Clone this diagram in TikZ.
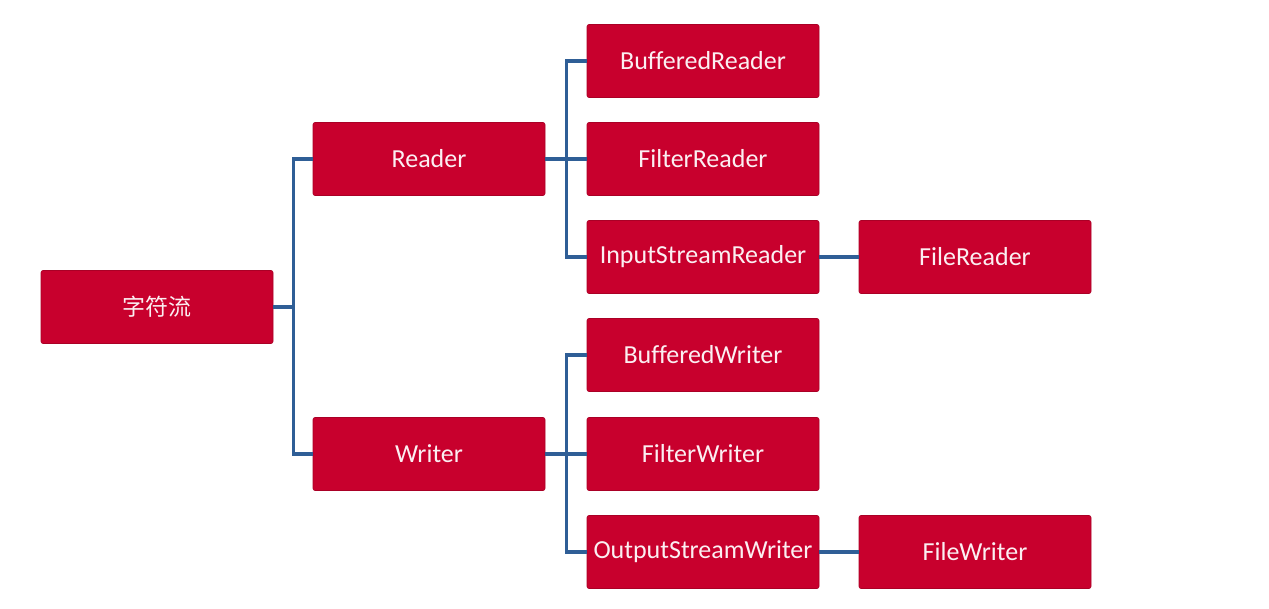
\documentclass[tikz,border=0pt]{standalone}
\usepackage{fontspec}
\setmainfont[Ligatures=NoCommon]{Carlito}
\newfontfamily\cjk{Noto Sans CJK SC}
\definecolor{boxred}{HTML}{C8002D}
\definecolor{lineblue}{HTML}{2F5E96}
\definecolor{txt}{HTML}{FBEFF2}
\begin{document}
\begin{tikzpicture}[x=1pt,y=-1pt,
  cbox/.style={fill=boxred, draw=boxred!85!black, line width=0.6pt, rounded corners=2pt,
    minimum width=232pt, minimum height=73pt, inner sep=0pt, text=txt,
    font=\fontsize{26}{28}\selectfont},
  link/.style={draw=lineblue, line width=3.2pt}]
\useasboundingbox (0,0) rectangle (1269,609);
\node[cbox] (root) at (157,307) {\cjk\fontsize{23}{25}\selectfont 字符流};
\node[cbox] (reader) at (429,159) {Reader};
\node[cbox] (writer) at (429,454) {Writer};
\node[cbox] (br) at (703,61) {BufferedReader};
\node[cbox] (fr) at (703,159) {FilterReader};
\node[cbox] (isr) at (703,257) {InputStreamReader};
\node[cbox] (filer) at (975,257) {FileReader};
\node[cbox] (bw) at (703,355) {BufferedWriter};
\node[cbox] (fw) at (703,454) {FilterWriter};
\node[cbox] (osw) at (703,552) {OutputStreamWriter};
\node[cbox] (filew) at (975,552) {FileWriter};
\begin{scope}[on background layer/.try]
\draw[link] (root.east) -- ++(20,0) coordinate (rj);
\draw[link] (reader.west) -| (rj) |- (writer.west);
\draw[link] (reader.east) -- ++(21,0) coordinate (rdj);
\draw[link] (br.west) -| (rdj) |- (isr.west);
\draw[link] (rdj) -- (fr.west);
\draw[link] (writer.east) -- ++(21,0) coordinate (wj);
\draw[link] (bw.west) -| (wj) |- (osw.west);
\draw[link] (wj) -- (fw.west);
\draw[link] (isr.east) -- (filer.west);
\draw[link] (osw.east) -- (filew.west);
\end{scope}
\end{tikzpicture}
\end{document}
